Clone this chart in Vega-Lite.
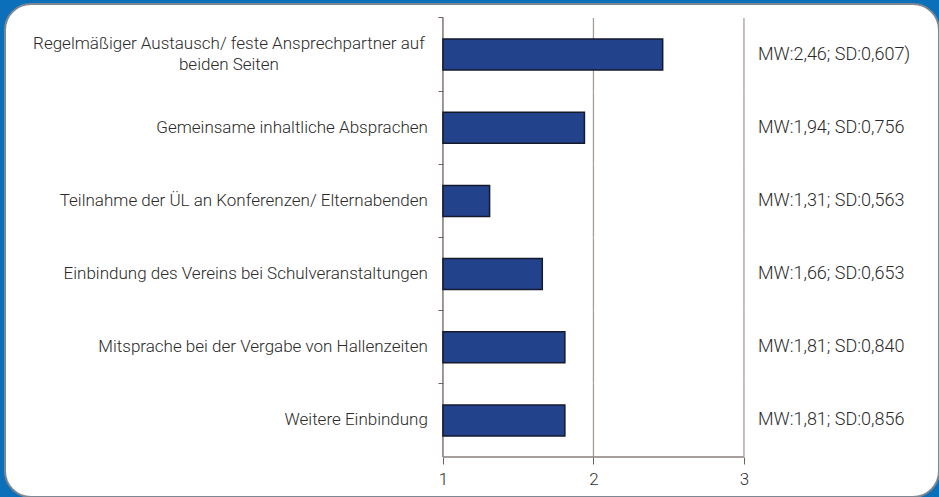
{
  "$schema": "https://vega.github.io/schema/vega-lite/v6.json",
  "width": 939,
  "height": 497,
  "autosize": {"type": "fit", "contains": "padding"},
  "padding": {"left": 5, "top": 4, "right": 0, "bottom": 0},
  "background": "#0b6fba",
  "config": {
    "view": {"fill": "#ffffff", "stroke": "#7d8791", "strokeWidth": 2, "cornerRadius": 26},
    "font": "Roboto"
  },
  "data": {
    "values": [
      {"item": "Regelmäßiger Austausch/ feste Ansprechpartner auf\nbeiden Seiten", "mw": 2.46, "note": "MW:2,46; SD:0,607)"},
      {"item": "Gemeinsame inhaltliche Absprachen", "mw": 1.94, "note": "MW:1,94; SD:0,756"},
      {"item": "Teilnahme der ÜL an Konferenzen/ Elternabenden", "mw": 1.31, "note": "MW:1,31; SD:0,563"},
      {"item": "Einbindung des Vereins bei Schulveranstaltungen", "mw": 1.66, "note": "MW:1,66; SD:0,653"},
      {"item": "Mitsprache bei der Vergabe von Hallenzeiten", "mw": 1.81, "note": "MW:1,81; SD:0,840"},
      {"item": "Weitere Einbindung", "mw": 1.81, "note": "MW:1,81; SD:0,856"}
    ]
  },
  "encoding": {
    "y": {
      "field": "item",
      "type": "nominal",
      "sort": null,
      "scale": {"paddingInner": 0, "paddingOuter": 0.369, "align": 0.259},
      "axis": {
        "orient": "left",
        "offset": -438,
        "title": null,
        "labels": false,
        "domain": false,
        "ticks": true,
        "tickSize": 5,
        "tickColor": "#6b625e",
        "bandPosition": 0,
        "grid": false
      }
    }
  },
  "layer": [
    {
      "mark": {"type": "rect", "fillOpacity": 0, "stroke": "#a99d99", "strokeWidth": 1.3},
      "encoding": {
        "x": {"datum": 2, "type": "quantitative"},
        "x2": {"datum": 2}
      }
    },
    {
      "mark": {"type": "rect", "fillOpacity": 0, "stroke": "#a99d99", "strokeWidth": 1.3},
      "encoding": {
        "x": {"datum": 3, "type": "quantitative"},
        "x2": {"datum": 3}
      }
    },
    {
      "mark": {"type": "rect", "fillOpacity": 0, "stroke": "#6b625e", "strokeWidth": 1.3},
      "encoding": {
        "x": {"datum": 1, "type": "quantitative"},
        "x2": {"datum": 1}
      }
    },
    {
      "mark": {"type": "rule", "color": "#8a7f7b", "strokeWidth": 1.5, "yOffset": {"expr": "bandwidth('y')/2"}},
      "transform": [{"filter": "indexof(datum.note, '856') >= 0"}],
      "encoding": {
        "x": {"datum": 1.001, "type": "quantitative"},
        "x2": {"datum": 2.999}
      }
    },
    {
      "mark": {"type": "bar", "size": 31, "fill": "#23428c", "stroke": "#141a2c", "strokeWidth": 1.5},
      "encoding": {
        "x": {
          "field": "mw",
          "type": "quantitative",
          "scale": {"domain": [-1.91, 4.296], "nice": false, "zero": false},
          "axis": {
            "orient": "bottom",
            "offset": -40,
            "values": [1, 2, 3],
            "format": "d",
            "title": null,
            "domain": false,
            "grid": false,
            "tickSize": 7,
            "tickColor": "#6b625e",
            "labelFontSize": 17,
            "labelFontWeight": 300,
            "labelColor": "#333333",
            "labelPadding": 7
          }
        },
        "x2": {"datum": 1}
      }
    },
    {
      "transform": [{"filter": "indexof(datum.item, '\\n') < 0"}],
      "mark": {"type": "text", "align": "right", "baseline": "middle", "fontSize": 17, "fontWeight": 300, "color": "#2a2a2a"},
      "encoding": {
        "x": {"datum": 0.9, "type": "quantitative"},
        "text": {"field": "item"}
      }
    },
    {
      "transform": [{"filter": "indexof(datum.item, '\\n') >= 0"}],
      "mark": {"type": "text", "align": "center", "baseline": "middle", "lineBreak": "\n", "lineHeight": 21, "dy": -11, "fontSize": 17, "fontWeight": 300, "color": "#2a2a2a"},
      "encoding": {
        "x": {"datum": -0.422, "type": "quantitative"},
        "text": {"field": "item"}
      }
    },
    {
      "mark": {"type": "text", "align": "left", "baseline": "middle", "fontSize": 18, "fontWeight": 300, "color": "#2a2a2a"},
      "encoding": {
        "x": {"datum": 3.093, "type": "quantitative"},
        "text": {"field": "note"}
      }
    }
  ]
}
